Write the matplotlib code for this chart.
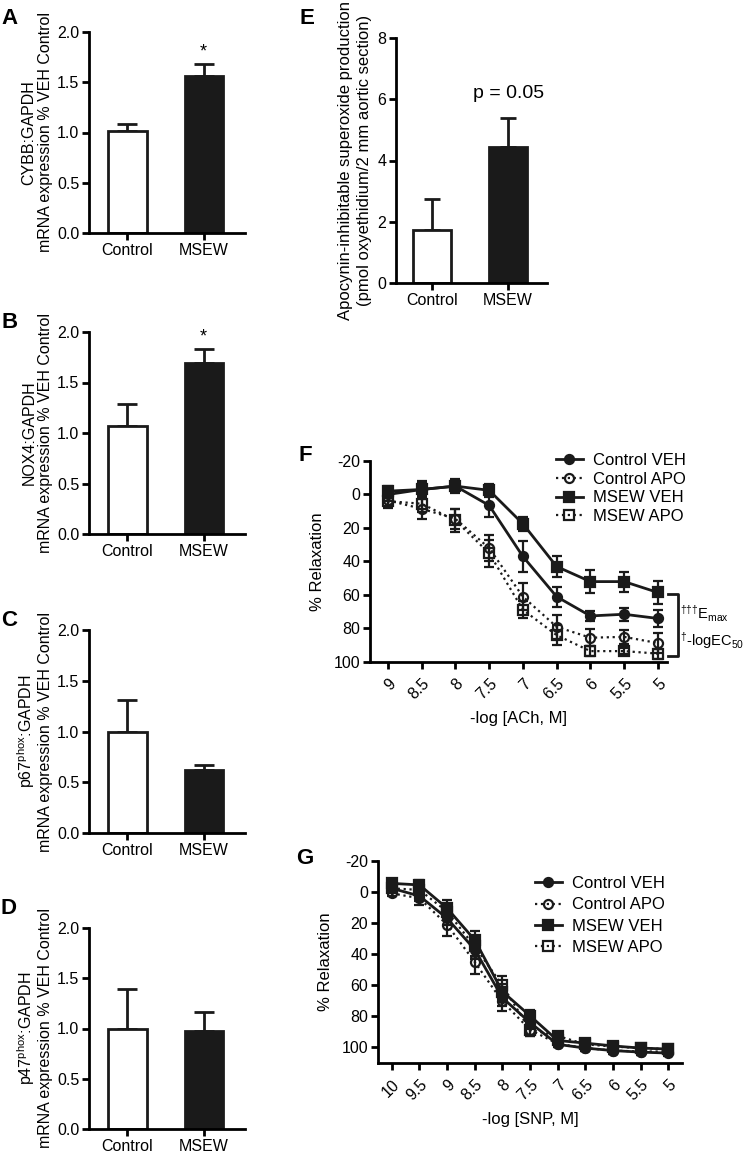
import numpy as np
import matplotlib
matplotlib.use('Agg')
import matplotlib.pyplot as plt
from matplotlib.lines import Line2D

plt.rcParams['font.family'] = ['Liberation Sans', 'DejaVu Sans']
plt.rcParams['mathtext.default'] = 'regular'
plt.rcParams['axes.linewidth'] = 2
plt.rcParams['axes.unicode_minus'] = False

W, H = 744, 1157

# ---------------- data ----------------
groups = ['Control', 'MSEW']

cybb_mean = [1.01, 1.56]
cybb_err = [0.07, 0.12]
nox4_mean = [1.07, 1.69]
nox4_err = [0.22, 0.14]
p67_mean = [1.00, 0.62]
p67_err = [0.31, 0.05]
p47_mean = [1.00, 0.98]
p47_err = [0.39, 0.18]

apo_mean = [1.72, 4.43]
apo_err = [1.03, 0.96]

ach_ticks = ['9', '8.5', '8', '7.5', '7', '6.5', '6', '5.5', '5']
ach_ctrl_veh = [0.0, -3.0, -5.0, 6.5, 37.0, 61.0, 72.5, 71.5, 74.0]
ach_ctrl_veh_err = [4, 5, 4, 7, 9, 6, 3, 4, 5]
ach_ctrl_apo = [3.5, 8.5, 14.5, 32.0, 61.0, 79.0, 85.5, 85.0, 88.7]
ach_ctrl_apo_err = [4, 6, 6, 8, 8, 7, 5, 4, 6]
ach_msew_veh = [-2.0, -3.0, -5.0, -2.5, 17.5, 43.0, 52.0, 52.0, 58.5]
ach_msew_veh_err = [3, 4, 3, 4, 4, 6, 7, 6, 7]
ach_msew_apo = [4.0, 5.5, 15.5, 35.0, 68.8, 84.0, 93.5, 93.5, 95.0]
ach_msew_apo_err = [4, 5, 7, 8, 5, 6, 3, 2, 3]

snp_ticks = ['10', '9.5', '9', '8.5', '8', '7.5', '7', '6.5', '6', '5.5', '5']
snp_ctrl_veh = [-2.4, 2.5, 16.9, 37.0, 68.0, 84.0, 98.0, 100.4, 102.0, 103.0, 103.6]
snp_ctrl_veh_err = [2, 3, 4, 6, 5, 4, 2, 2, 2, 2, 2]
snp_ctrl_apo = [0.8, 4.0, 21.0, 45.0, 70.4, 88.6, 97.6, 100.4, 102.0, 102.6, 102.6]
snp_ctrl_apo_err = [2, 4, 7, 8, 6, 4, 2, 2, 2, 2, 2]
snp_msew_veh = [-5.6, -4.6, 10.4, 30.8, 64.0, 79.6, 95.5, 97.2, 99.0, 100.4, 101.0]
snp_msew_veh_err = [3, 3, 5, 6, 5, 4, 2, 2, 2, 2, 2]
snp_msew_apo = [-2.4, -1.4, 12.6, 35.0, 60.0, 88.6, 92.5, 98.0, 99.4, 100.4, 101.0]
snp_msew_apo_err = [2, 3, 5, 6, 6, 4, 2, 2, 2, 2, 2]

series_names = ['Control VEH', 'Control APO', 'MSEW VEH', 'MSEW APO']

fig = plt.figure(figsize=(W / 100, H / 100), dpi=100)

specs = [
    dict(marker='o', ls='-', lw=2, mfc='#1a1a1a'),
    dict(marker='o', ls=':', lw=1.6, mfc='none'),
    dict(marker='s', ls='-', lw=2, mfc='#1a1a1a'),
    dict(marker='s', ls=':', lw=1.6, mfc='none'),
]


def add_ax(l, t, r, b):
    return fig.add_axes([l / W, 1 - b / H, (r - l) / W, (b - t) / H])


def style(ax, size=11):
    ax.spines['top'].set_visible(False)
    ax.spines['right'].set_visible(False)
    ax.tick_params(direction='out', length=5, width=2, labelsize=size, pad=2)


def bar_panel(ax, mean, err, ylabel, star=False):
    x = np.arange(len(groups))
    ax.bar(x, mean, width=0.5, color=['white', '#1a1a1a'], edgecolor='#1a1a1a', linewidth=2, zorder=2)
    ax.errorbar(x, mean, yerr=[[0, 0], err], fmt='none', ecolor='#1a1a1a', elinewidth=2,
                capsize=7, capthick=2, zorder=1)
    ax.set_xlim(-0.506, 1.545)
    ax.set_ylim(0, 2.0)
    ax.set_yticks([0, 0.5, 1.0, 1.5, 2.0])
    ax.set_yticklabels(['0.0', '0.5', '1.0', '1.5', '2.0'])
    ax.set_xticks(x)
    ax.set_xticklabels(groups)
    ax.set_ylabel(ylabel, fontsize=11.5, labelpad=3, linespacing=1.1)
    style(ax, 11.5)
    if star:
        ax.text(1, mean[1] + err[1] + 0.04, '*', ha='center', va='bottom', fontsize=13)


axA = add_ax(89, 32, 245, 233)
bar_panel(axA, cybb_mean, cybb_err, 'CYBB:GAPDH\nmRNA expression % VEH Control', star=True)
axB = add_ax(89, 332, 245, 534)
bar_panel(axB, nox4_mean, nox4_err, 'NOX4:GAPDH\nmRNA expression % VEH Control', star=True)
axC = add_ax(89, 630, 245, 833)
bar_panel(axC, p67_mean, p67_err, 'p67$^{phox}$:GAPDH\nmRNA expression % VEH Control')
axD = add_ax(89, 928, 245, 1129)
bar_panel(axD, p47_mean, p47_err, 'p47$^{phox}$:GAPDH\nmRNA expression % VEH Control')

# panel E
axE = add_ax(396, 38, 547, 283)
xe = np.arange(len(groups))
axE.bar(xe, apo_mean, width=0.5, color=['white', '#1a1a1a'], edgecolor='#1a1a1a', linewidth=2, zorder=2)
axE.errorbar(xe, apo_mean, yerr=[[0, 0], apo_err], fmt='none', ecolor='#1a1a1a', elinewidth=2,
             capsize=6, capthick=2, zorder=1)
axE.set_xlim(-0.47, 1.51)
axE.set_ylim(0, 8)
axE.set_yticks([0, 2, 4, 6, 8])
axE.set_xticks(xe)
axE.set_xticklabels(groups)
axE.set_ylabel('Apocynin-inhibitable superoxide production\n(pmol oxyethidium/2 mm aortic section)',
               fontsize=12, labelpad=4, linespacing=1.3)
style(axE, 11.5)
axE.text(1, 6.2, 'p = 0.05', ha='center', va='center', fontsize=14)


def curve_panel(ax, ticks, data, ylim):
    x = np.arange(len(ticks))
    for (mean, err), name, sp in zip(data, series_names, specs):
        ax.errorbar(x, mean, yerr=err, color='#1a1a1a', ecolor='#1a1a1a', elinewidth=1.6,
                    capsize=3.5, capthick=1.6, marker=sp['marker'], ms=6.5, mew=1.6,
                    mfc=sp['mfc'], mec='#1a1a1a', ls=sp['ls'], lw=sp['lw'])
    ax.set_ylim(*ylim)
    ax.set_yticks([-20, 0, 20, 40, 60, 80, 100])
    ax.set_xticks(x)
    ax.set_xticklabels(ticks, rotation=45, ha='right', va='top', rotation_mode='anchor')
    ax.set_ylabel('% Relaxation', fontsize=12, labelpad=6)
    style(ax, 11.5)
    ax.tick_params(axis='x', pad=5)


def legend_handles():
    return [Line2D([], [], color='#1a1a1a', marker=sp['marker'], ms=6.5, mew=1.6, mfc=sp['mfc'],
                   mec='#1a1a1a', ls=sp['ls'], lw=sp['lw']) for sp in specs]


# panel F
axF = add_ax(370, 461, 667, 662)
curve_panel(axF, ach_ticks,
            [(ach_ctrl_veh, ach_ctrl_veh_err), (ach_ctrl_apo, ach_ctrl_apo_err),
             (ach_msew_veh, ach_msew_veh_err), (ach_msew_apo, ach_msew_apo_err)],
            (100, -20))
axF.set_xlim(-0.53, 8.27)
axF.set_xlabel('-log [ACh, M]', fontsize=12, labelpad=6)
axF.plot([8.30, 8.59, 8.59, 8.30], [59.5, 59.5, 96.5, 96.5], color='#1a1a1a', lw=2, clip_on=False)
axF.text(8.66, 71, '$^{†††}$E$_{max}$', fontsize=10.5, va='center', ha='left')
axF.text(8.66, 87, '$^{†}$-logEC$_{50}$', fontsize=10.5, va='center', ha='left')
axF.legend(legend_handles(), series_names, loc='upper left', bbox_to_anchor=(556 / W, 1 - 453 / H),
           bbox_transform=fig.transFigure, frameon=False, fontsize=12, handlelength=1.6,
           handletextpad=0.6, labelspacing=0.22, borderpad=0, borderaxespad=0)

# panel G
axG = add_ax(378, 861, 682, 1063)
curve_panel(axG, snp_ticks,
            [(snp_ctrl_veh, snp_ctrl_veh_err), (snp_ctrl_apo, snp_ctrl_apo_err),
             (snp_msew_veh, snp_msew_veh_err), (snp_msew_apo, snp_msew_apo_err)],
            (110, -20))
axG.set_xlim(-0.5, 10.5)
axG.set_xlabel('-log [SNP, M]', fontsize=12, labelpad=6)
axG.legend(legend_handles(), series_names, loc='upper left', bbox_to_anchor=(535 / W, 1 - 876 / H),
           bbox_transform=fig.transFigure, frameon=False, fontsize=12, handlelength=1.6,
           handletextpad=0.6, labelspacing=0.38, borderpad=0, borderaxespad=0)

# panel letters
for lab, px, py in [('A', 10, 18), ('B', 10, 323), ('C', 9, 620), ('D', 9, 908),
                    ('E', 307, 18), ('F', 305, 455), ('G', 305, 858)]:
    fig.text(px / W, 1 - py / H, lab, fontsize=16, fontweight='bold', ha='center', va='center')

fig.savefig('out.png', dpi=100)
